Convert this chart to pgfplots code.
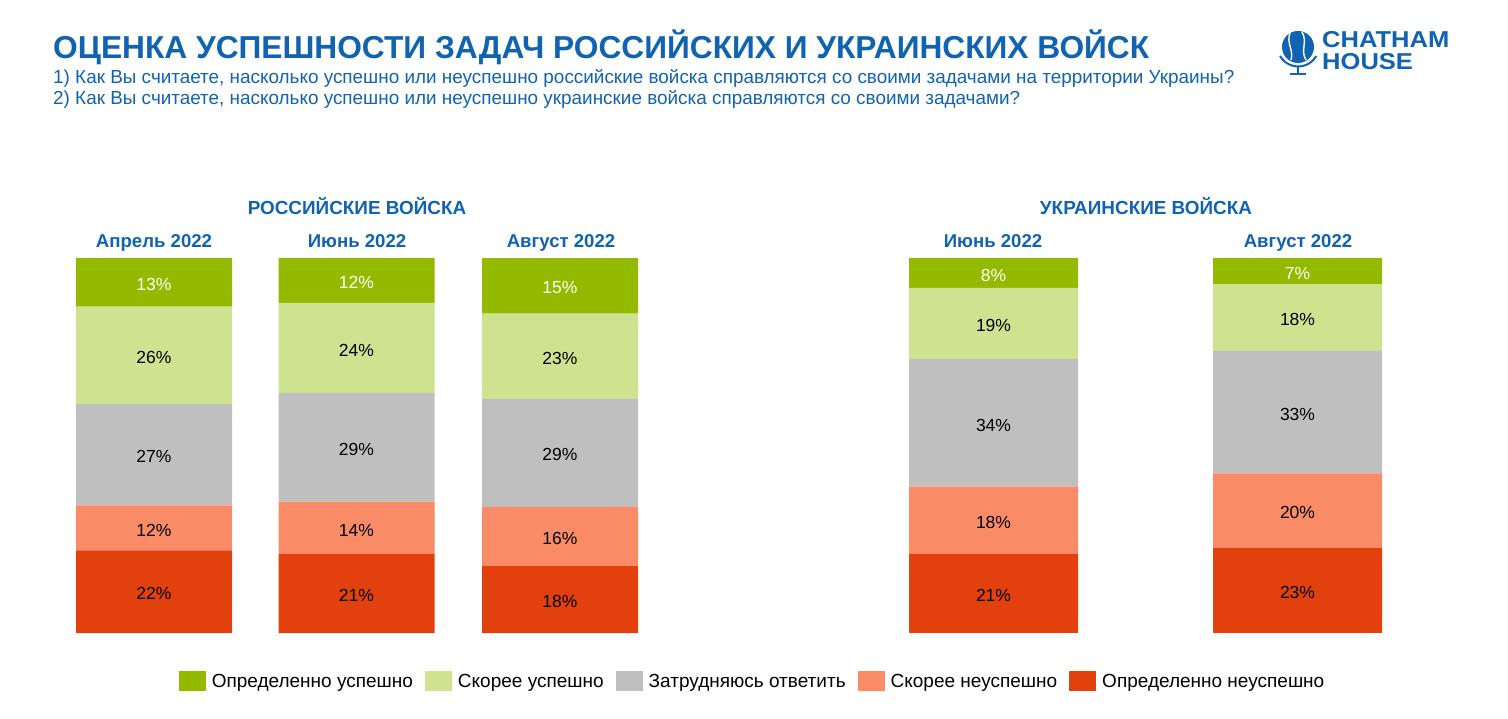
\documentclass[border=0pt]{standalone}
\usepackage{pgfplots}
\pgfplotsset{compat=1.18}
\usepackage{fontspec}
\setmainfont{Liberation Sans}
\definecolor{cBlue}{RGB}{16,99,177}
\definecolor{cDG}{RGB}{148,186,0}
\definecolor{cLG}{RGB}{207,226,143}
\definecolor{cGR}{RGB}{191,191,191}
\definecolor{cSA}{RGB}{249,139,102}
\definecolor{cRD}{RGB}{226,65,13}
\newcommand\titlefont{\fontsize{31.7}{37}\selectfont\bfseries}
\newcommand\subfont{\fontsize{18.9}{22}\selectfont}
\newcommand\headfont{\fontsize{18.9}{22}\selectfont\bfseries}
\newcommand\monfont{\fontsize{18.6}{22}\selectfont\bfseries}
\newcommand\labfont{\fontsize{17.5}{21}\selectfont}
\newcommand\legfont{\fontsize{19}{22}\selectfont}
\newcommand\logofont{\fontsize{23}{23}\selectfont\bfseries}
\pgfplotsset{
  barbase/.style={
    at={(0pt,85pt)}, anchor=south west, scale only axis,
    width=1508pt, height=375pt,
    xmin=0, xmax=1508, ymin=0, ymax=100,
    hide axis, clip=false,
    ybar stacked,
    point meta=explicit symbolic,
    nodes near coords={\pgfplotspointmeta\%},
    every node near coord/.append style={anchor=center, font=\labfont, text=black, yshift=-2pt},
  }
}
\begin{document}
\begin{tikzpicture}[x=1pt,y=1pt]
\useasboundingbox (0,0) rectangle (1508,718);

% Russian troops
\begin{axis}[barbase, bar width=156,
  legend columns=5, reverse legend,
  legend style={draw=none, fill=none, at={(0.4997,-0.1293)}, anchor=center,
    font=\legfont,
    /tikz/every even column/.append style={column sep=8pt},
    /tikz/every odd column/.append style={column sep=2pt},
    nodes={inner ysep=4pt, inner xsep=4pt}},
  legend image code/.code={\fill[#1,draw=none] (0pt,-10pt) rectangle (27pt,10pt);},
]
\addplot[fill=cRD, draw=none] coordinates {(154,22) [22] (356.5,21) [21] (560,17.82) [18]};
\addlegendentry{Определенно неуспешно}
\addplot[fill=cSA, draw=none] coordinates {(154,12) [12] (356.5,14) [14] (560,15.84) [16]};
\addlegendentry{Скорее неуспешно}
\addplot[fill=cGR, draw=none] coordinates {(154,27) [27] (356.5,29) [29] (560,28.71) [29]};
\addlegendentry{Затрудняюсь ответить}
\addplot[fill=cLG, draw=none] coordinates {(154,26) [26] (356.5,24) [24] (560,22.77) [23]};
\addlegendentry{Скорее успешно}
\addplot[fill=cDG, draw=none, every node near coord/.append style={text=white}] coordinates {(154,13) [13] (356.5,12) [12] (560,14.85) [15]};
\addlegendentry{Определенно успешно}
\end{axis}

% Ukrainian troops
\begin{axis}[barbase, bar width=169]
\addplot[fill=cRD, draw=none] coordinates {(993.5,21) [21] (1297.5,22.77) [23]};
\addplot[fill=cSA, draw=none] coordinates {(993.5,18) [18] (1297.5,19.80) [20]};
\addplot[fill=cGR, draw=none] coordinates {(993.5,34) [34] (1297.5,32.67) [33]};
\addplot[fill=cLG, draw=none] coordinates {(993.5,19) [19] (1297.5,17.82) [18]};
\addplot[fill=cDG, draw=none, every node near coord/.append style={text=white}] coordinates {(993.5,8) [8] (1297.5,6.94) [7]};
\end{axis}

% Titles
\node[anchor=base west, inner sep=0, text=cBlue, font=\titlefont] at (53,659) {ОЦЕНКА УСПЕШНОСТИ ЗАДАЧ РОССИЙСКИХ И УКРАИНСКИХ ВОЙСК};
\node[anchor=base west, inner sep=0, text=cBlue, font=\subfont] at (53,634) {1) Как Вы считаете, насколько успешно или неуспешно российские войска справляются со своими задачами на территории Украины?};
\node[anchor=base west, inner sep=0, text=cBlue, font=\subfont] at (53,613) {2) Как Вы считаете, насколько успешно или неуспешно украинские войска справляются со своими задачами?};

% Group headers
\node[anchor=base, inner sep=0, text=cBlue, font=\headfont] at (357,503) {РОССИЙСКИЕ ВОЙСКА};
\node[anchor=base, inner sep=0, text=cBlue, font=\headfont] at (1146,503) {УКРАИНСКИЕ ВОЙСКА};
\node[anchor=base, inner sep=0, text=cBlue, font=\monfont] at (154,470) {Апрель 2022};
\node[anchor=base, inner sep=0, text=cBlue, font=\monfont] at (357,470) {Июнь 2022};
\node[anchor=base, inner sep=0, text=cBlue, font=\monfont] at (561,470) {Август 2022};
\node[anchor=base, inner sep=0, text=cBlue, font=\monfont] at (993,470) {Июнь 2022};
\node[anchor=base, inner sep=0, text=cBlue, font=\monfont] at (1298,470) {Август 2022};

% Logo
\fill[cBlue] (1298,671) circle (16);
\draw[white, line width=1.4] (1290,685) .. controls (1286,675) and (1294,668) .. (1291,658);
\draw[white, line width=1.4] (1302,686) .. controls (1308,676) and (1300,668) .. (1306,658);
\draw[cBlue, line width=2] (1280,662) arc[start angle=210, end angle=330, radius=21];
\draw[cBlue, line width=2] (1298,651) -- (1298,645);
\draw[cBlue, line width=2.5] (1290,644) -- (1306,644);
\node[anchor=base west, inner sep=0, text height=16pt, text depth=0pt, text=cBlue, font=\logofont] at (1322,670) {\scalebox{1.11}[1]{CHATHAM}};
\node[anchor=base west, inner sep=0, text height=16pt, text depth=0pt, text=cBlue, font=\logofont] at (1322,648) {\scalebox{1.11}[1]{HOUSE}};
\end{tikzpicture}
\end{document}
